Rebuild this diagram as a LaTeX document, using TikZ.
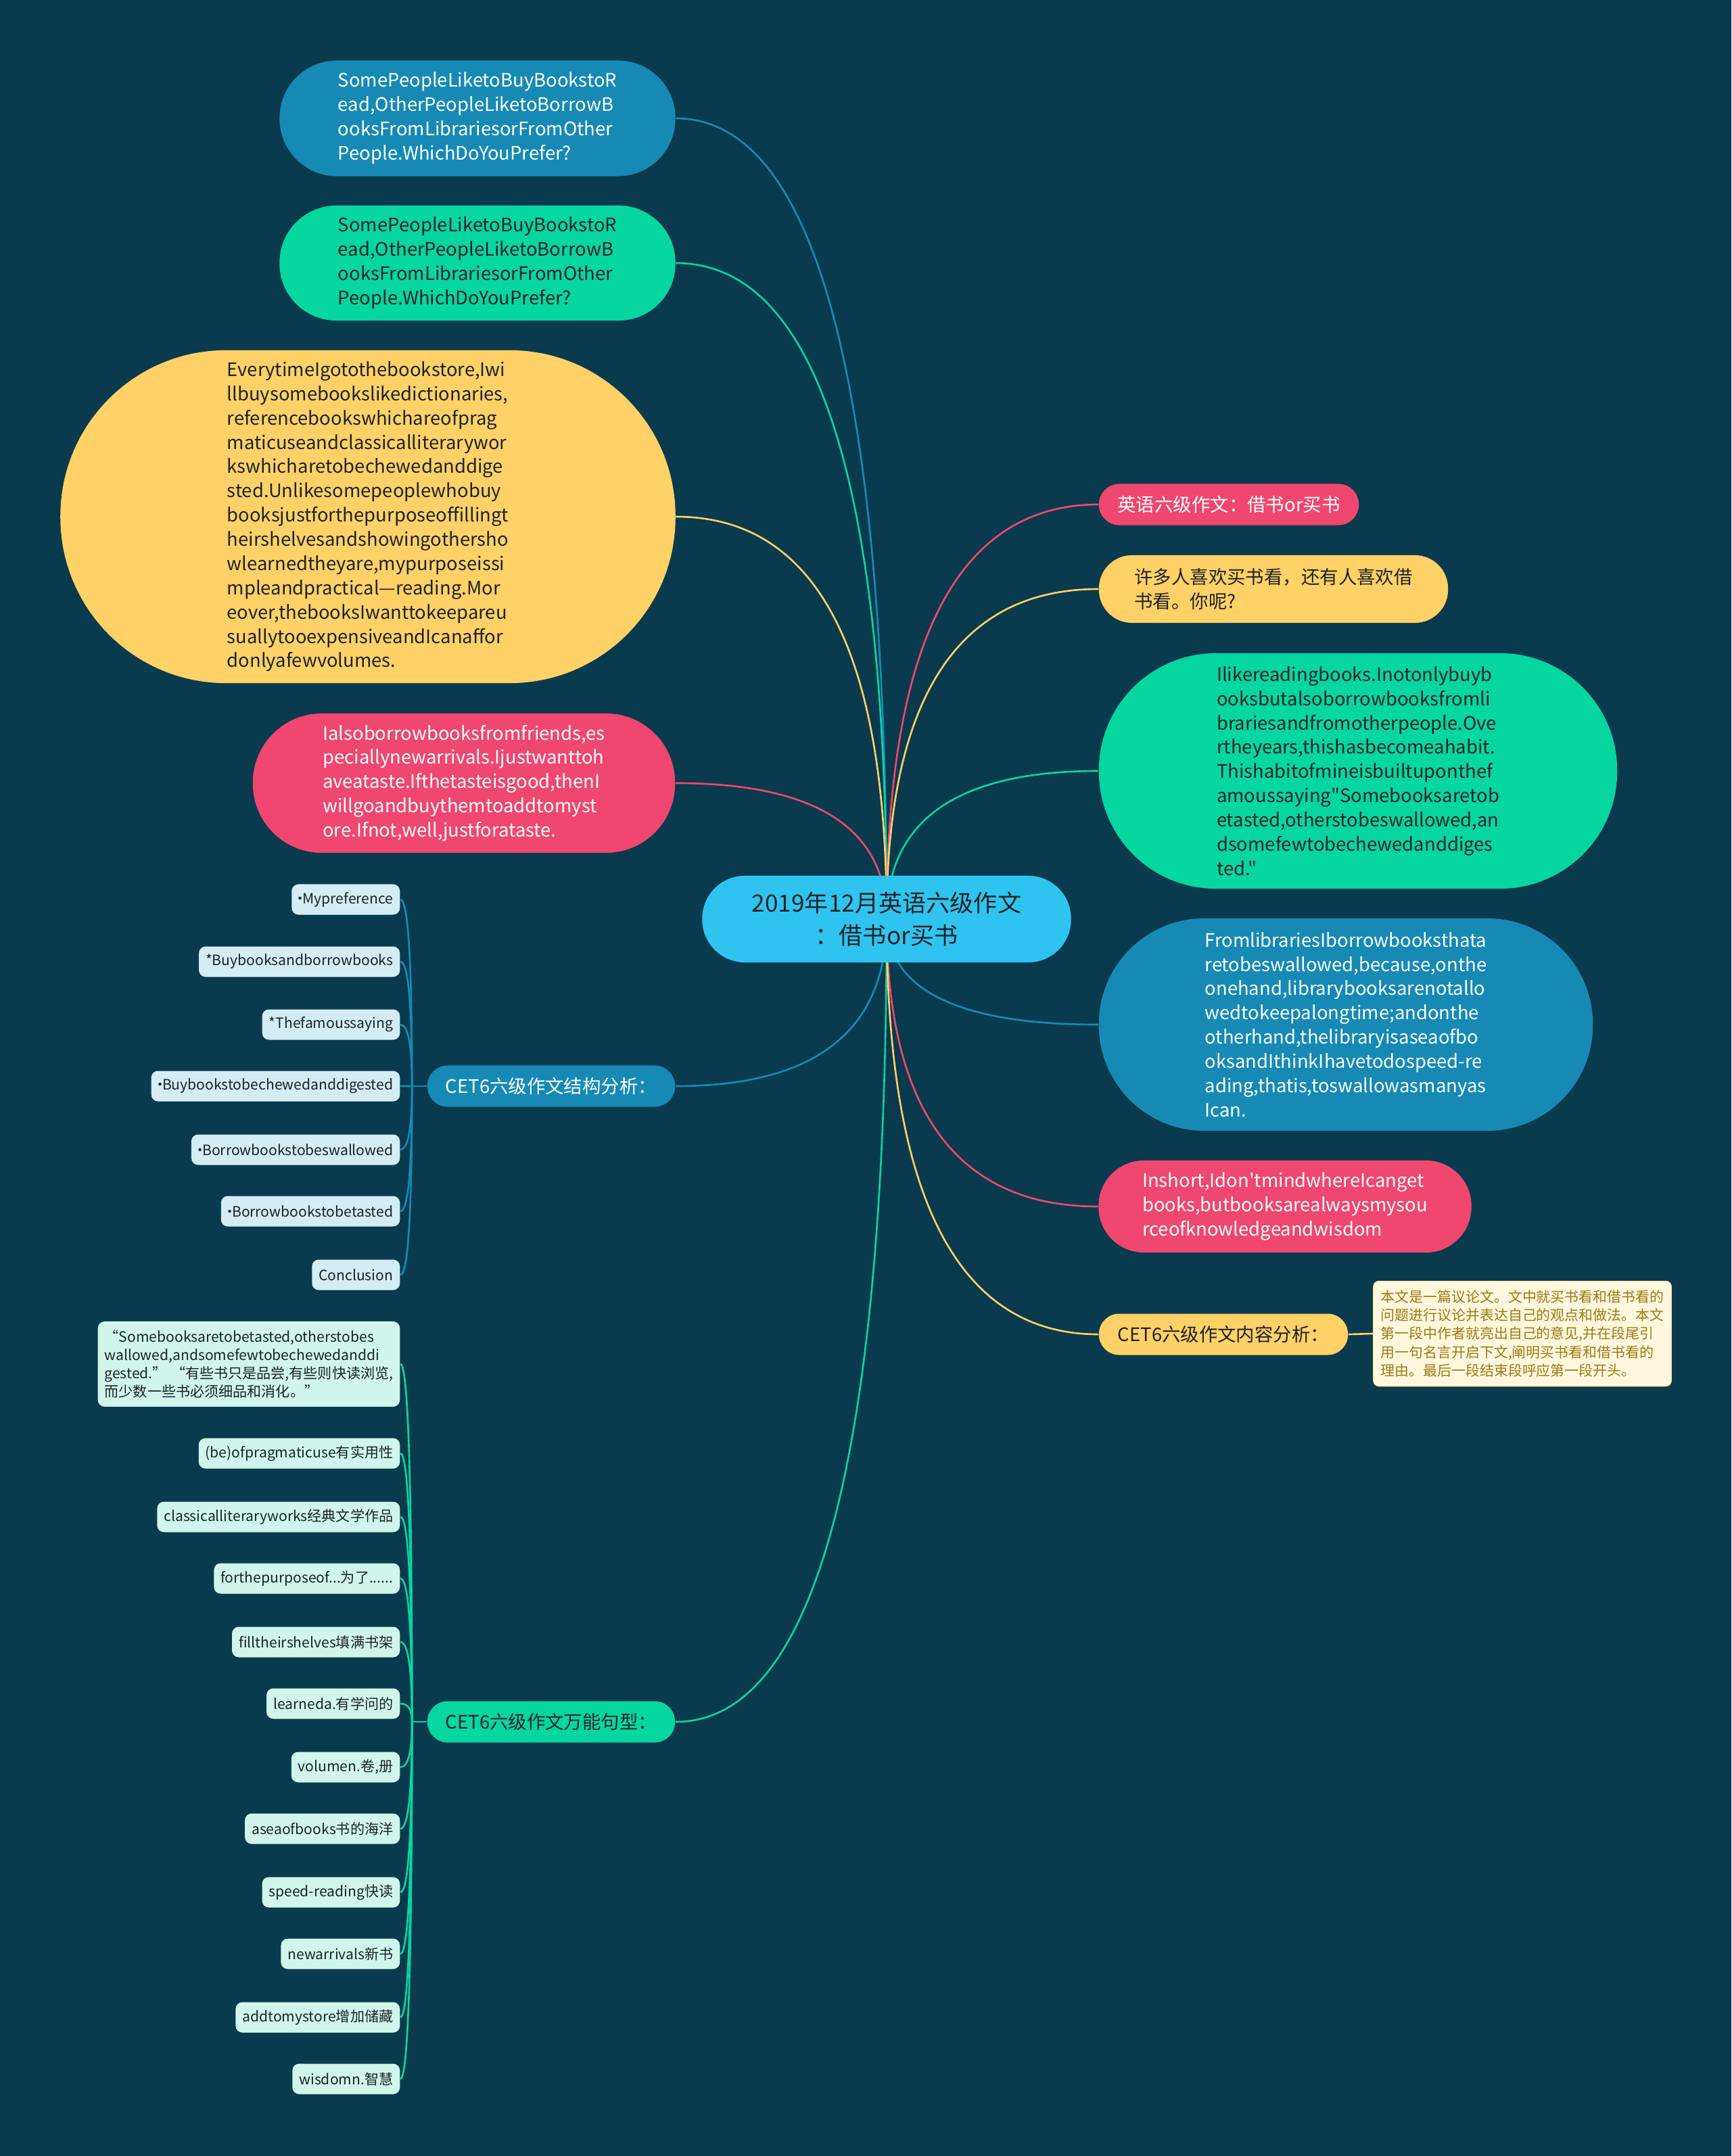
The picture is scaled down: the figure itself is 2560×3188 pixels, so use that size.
\documentclass[tikz,border=0pt]{standalone}
\usepackage{fontspec}
\setmainfont{Noto Sans CJK SC}[Ligatures=TeXOff]
\usepackage{xcolor}
\usepackage{tikz}
\usetikzlibrary{calc}

\definecolor{bgteal}{HTML}{0A3A4E}
\definecolor{hubblue}{HTML}{2FC4F0}
\definecolor{mapblue}{HTML}{168AB5}
\definecolor{mapgreen}{HTML}{06D6A0}
\definecolor{mapyellow}{HTML}{FFD166}
\definecolor{mappink}{HTML}{EF476F}
\definecolor{leafblue}{HTML}{D4ECF4}
\definecolor{leafgreen}{HTML}{D0F5EA}
\definecolor{memofill}{HTML}{FFF8DE}
\definecolor{memotext}{HTML}{9C7A14}
\definecolor{ink}{HTML}{1C2326}

% narrow middle dot (the CJK font sets it full width)
\newcommand{\smalldot}{\makebox[0.3em]{·}}

\pgfdeclarelayer{canvas}
\pgfdeclarelayer{links}
\pgfsetlayers{canvas,links,main}

\begin{document}
\begin{tikzpicture}[
  x=0.01cm, y=-0.01cm,
  hubbox/.style={fill=hubblue, text=ink, font=\fontsize{10}{13.9}\selectfont,
    align=center, inner sep=0pt, minimum width=5.45cm, minimum height=1.28cm,
    rounded corners=0.63cm},
  topicbox/.style={inner sep=0pt, align=left, font=\fontsize{7.8}{10.2}\selectfont},
  tagbox/.style={inner sep=0pt, align=left, font=\fontsize{7.8}{10.2}\selectfont,
    minimum height=0.61cm, rounded corners=0.3cm},
  leafbox/.style={anchor=east, inner xsep=0.1cm, inner ysep=0pt, minimum height=0.45cm,
    rounded corners=0.1cm, text=ink, align=left, font=\fontsize{6.0}{7.7}\selectfont},
  memobox/.style={fill=memofill, draw=mapyellow!45!memofill, line width=0.4pt,
    text=memotext, inner sep=0pt, align=left, minimum width=4.40cm, minimum height=1.55cm,
    rounded corners=0.08cm, font=\fontsize{5.95}{7.7}\selectfont},
  onblue/.style={fill=mapblue, text=white},
  ongreen/.style={fill=mapgreen, text=ink},
  onyellow/.style={fill=mapyellow, text=ink},
  onpink/.style={fill=mappink, text=white},
  linkline/.style={line width=0.75pt},
  curve/.style={to path={.. controls ($(\tikztostart)!0.667!(\tikztostart |- \tikztotarget)$)
    and ($(\tikztotarget)!0.667!(\tikztostart |- \tikztotarget)$) .. (\tikztotarget)}},
]
% 1 unit = 1 px of the 2560 x 3188 reference, origin top left
\useasboundingbox (0,0) rectangle (2560,3188);
\begin{pgfonlayer}{canvas}
  \fill[bgteal] (0,0) rectangle (2560,3188);
\end{pgfonlayer}

% ─── Root ──────────────────────────────────────────────────────────────────
\node[hubbox] (root) at (1311,1359) {2019年12月英语六级作文\\：借书or买书};

% ─── Left side ─────────────────────────────────────────────────────────────
\node[topicbox, onblue, minimum width=5.85cm, minimum height=1.71cm, rounded corners=0.85cm]
  (l1) at (706,175)
  {SomePeopleLiketoBuyBookstoR\\ead,OtherPeopleLiketoBorrowB\\ooksFromLibrariesorFromOther\\People.WhichDoYouPrefer?};
\node[topicbox, ongreen, minimum width=5.85cm, minimum height=1.70cm, rounded corners=0.84cm]
  (l2) at (706,389)
  {SomePeopleLiketoBuyBookstoR\\ead,OtherPeopleLiketoBorrowB\\ooksFromLibrariesorFromOther\\People.WhichDoYouPrefer?};
\node[topicbox, onyellow, minimum width=9.09cm, minimum height=4.92cm, rounded corners=2.45cm]
  (l3) at (544,764)
  {EverytimeIgotothebookstore,Iwi\\llbuysomebookslikedictionaries,\\referencebookswhichareofprag\\maticuseandclassicalliterarywor\\kswhicharetobechewedanddige\\sted.Unlikesomepeoplewhobuy\\booksjustforthepurposeoffillingt\\heirshelvesandshowingothersho\\wlearnedtheyare,mypurposeissi\\mpleandpractical—reading.Mor\\eover,thebooksIwanttokeepareu\\suallytooexpensiveandIcanaffor\\donlyafewvolumes.};
\node[topicbox, onpink, minimum width=6.24cm, minimum height=2.06cm, rounded corners=1.02cm]
  (l4) at (686,1158)
  {Ialsoborrowbooksfromfriends,es\\peciallynewarrivals.Ijustwanttoh\\aveataste.Ifthetasteisgood,thenI\\willgoandbuythemtoaddtomyst\\ore.Ifnot,well,justforataste.};
\node[tagbox, onblue, minimum width=3.66cm] (l5) at (815,1606) {CET6六级作文结构分析：};
\node[tagbox, ongreen, minimum width=3.66cm] (l6) at (815,2546) {CET6六级作文万能句型：};

% ─── Right side ────────────────────────────────────────────────────────────
\node[tagbox, onpink, minimum width=3.84cm] (r1) at (1817,746) {英语六级作文：借书or买书};
\node[tagbox, onyellow, minimum width=5.16cm, minimum height=1.00cm, rounded corners=0.49cm]
  (r2) at (1883,871) {许多人喜欢买书看，还有人喜欢借\\书看。你呢?};
\node[topicbox, ongreen, minimum width=7.66cm, minimum height=3.48cm, rounded corners=1.73cm]
  (r3) at (2008,1140)
  {Ilikereadingbooks.Inotonlybuyb\\ooksbutalsoborrowbooksfromli\\brariesandfromotherpeople.Ove\\rtheyears,thishasbecomeahabit.\\Thishabitofmineisbuiltuponthef\\amoussaying"Somebooksaretob\\etasted,otherstobeswallowed,an\\dsomefewtobechewedanddiges\\ted."};
\node[topicbox, onblue, minimum width=7.30cm, minimum height=3.14cm, rounded corners=1.56cm]
  (r4) at (1990,1515)
  {FromlibrariesIborrowbooksthata\\retobeswallowed,because,onthe\\onehand,librarybooksarenotallo\\wedtokeepalongtime;andonthe\\otherhand,thelibraryisaseaofbo\\oksandIthinkIhavetodospeed-re\\ading,thatis,toswallowasmanyas\\Ican.};
\node[topicbox, onpink, minimum width=5.51cm, minimum height=1.36cm, rounded corners=0.67cm]
  (r5) at (1900,1784)
  {Inshort,Idon'tmindwhereIcanget\\books,butbooksarealwaysmysou\\rceofknowledgeandwisdom};
\node[tagbox, onyellow, minimum width=3.68cm] (r6) at (1809,1973) {CET6六级作文内容分析：};
\node[memobox] (memo) at (2251,1972)
  {本文是一篇议论文。文中就买书看和借书看的\\问题进行议论并表达自己的观点和做法。本文\\第一段中作者就亮出自己的意见,并在段尾引\\用一句名言开启下文,阐明买书看和借书看的\\理由。最后一段结束段呼应第一段开头。};

% ─── Structure leaves ──────────────────────────────────────────────────────
\node[leafbox, fill=leafblue] (s1) at (592,1330) {\smalldot Mypreference};
\node[leafbox, fill=leafblue] (s2) at (592,1422) {*Buybooksandborrowbooks};
\node[leafbox, fill=leafblue] (s3) at (592,1515) {*Thefamoussaying};
\node[leafbox, fill=leafblue] (s4) at (592,1606) {\smalldot Buybookstobechewedanddigested};
\node[leafbox, fill=leafblue] (s5) at (592,1700) {\smalldot Borrowbookstobeswallowed};
\node[leafbox, fill=leafblue] (s6) at (592,1791) {\smalldot Borrowbookstobetasted};
\node[leafbox, fill=leafblue] (s7) at (592,1885) {Conclusion};

% ─── Phrase leaves ─────────────────────────────────────────────────────────
\node[leafbox, fill=leafgreen, minimum width=4.37cm, minimum height=1.26cm] (w1) at (592,2017)
  {“Somebooksaretobetasted,otherstobes\\wallowed,andsomefewtobechewedanddi\\gested.” “有些书只是品尝,有些则快读浏览,\\而少数一些书必须细品和消化。”};
\node[leafbox, fill=leafgreen] (w2) at (592,2149) {(be)ofpragmaticuse有实用性};
\node[leafbox, fill=leafgreen] (w3) at (592,2243) {classicalliteraryworks经典文学作品};
\node[leafbox, fill=leafgreen] (w4) at (592,2334) {forthepurposeof...为了......};
\node[leafbox, fill=leafgreen] (w5) at (592,2428) {filltheirshelves填满书架};
\node[leafbox, fill=leafgreen] (w6) at (592,2519) {learneda.有学问的};
\node[leafbox, fill=leafgreen] (w7) at (592,2613) {volumen.卷,册};
\node[leafbox, fill=leafgreen] (w8) at (592,2704) {aseaofbooks书的海洋};
\node[leafbox, fill=leafgreen] (w9) at (592,2798) {speed-reading快读};
\node[leafbox, fill=leafgreen] (w10) at (592,2889) {newarrivals新书};
\node[leafbox, fill=leafgreen] (w11) at (592,2983) {addtomystore增加储藏};
\node[leafbox, fill=leafgreen] (w12) at (592,3074) {wisdomn.智慧};

% ─── Connectors (drawn under the boxes) ────────────────────────────────────
\begin{pgfonlayer}{links}
\draw[linkline, mapblue]   (root.center) to[curve] (l1.east);
\draw[linkline, mapgreen]  (root.center) to[curve] (l2.east);
\draw[linkline, mapyellow] (root.center) to[curve] (l3.east);
\draw[linkline, mappink]   (root.center) to[curve] (l4.east);
\draw[linkline, mapblue]   (root.center) to[curve] (l5.east);
\draw[linkline, mapgreen]  (root.center) to[curve] (l6.east);
\draw[linkline, mappink]   (root.center) to[curve] (r1.west);
\draw[linkline, mapyellow] (root.center) to[curve] (r2.west);
\draw[linkline, mapgreen]  (root.center) to[curve] (r3.west);
\draw[linkline, mapblue]   (root.center) to[curve] (r4.west);
\draw[linkline, mappink]   (root.center) to[curve] (r5.west);
\draw[linkline, mapyellow] (root.center) to[curve] (r6.west);
\draw[linkline, mapyellow] (r6.east) -- (memo.west);

\coordinate (k5) at ([xshift=-0.22cm]l5.west);
\draw[linkline, mapblue] (l5.west) -- (k5);
\draw[linkline, mapblue] (k5) to[curve] (s1.east);
\draw[linkline, mapblue] (k5) to[curve] (s2.east);
\draw[linkline, mapblue] (k5) to[curve] (s3.east);
\draw[linkline, mapblue] (k5) to[curve] (s4.east);
\draw[linkline, mapblue] (k5) to[curve] (s5.east);
\draw[linkline, mapblue] (k5) to[curve] (s6.east);
\draw[linkline, mapblue] (k5) to[curve] (s7.east);

\coordinate (k6) at ([xshift=-0.22cm]l6.west);
\draw[linkline, mapgreen] (l6.west) -- (k6);
\draw[linkline, mapgreen] (k6) to[curve] (w1.east);
\draw[linkline, mapgreen] (k6) to[curve] (w2.east);
\draw[linkline, mapgreen] (k6) to[curve] (w3.east);
\draw[linkline, mapgreen] (k6) to[curve] (w4.east);
\draw[linkline, mapgreen] (k6) to[curve] (w5.east);
\draw[linkline, mapgreen] (k6) to[curve] (w6.east);
\draw[linkline, mapgreen] (k6) to[curve] (w7.east);
\draw[linkline, mapgreen] (k6) to[curve] (w8.east);
\draw[linkline, mapgreen] (k6) to[curve] (w9.east);
\draw[linkline, mapgreen] (k6) to[curve] (w10.east);
\draw[linkline, mapgreen] (k6) to[curve] (w11.east);
\draw[linkline, mapgreen] (k6) to[curve] (w12.east);
\end{pgfonlayer}

\end{tikzpicture}
\end{document}
